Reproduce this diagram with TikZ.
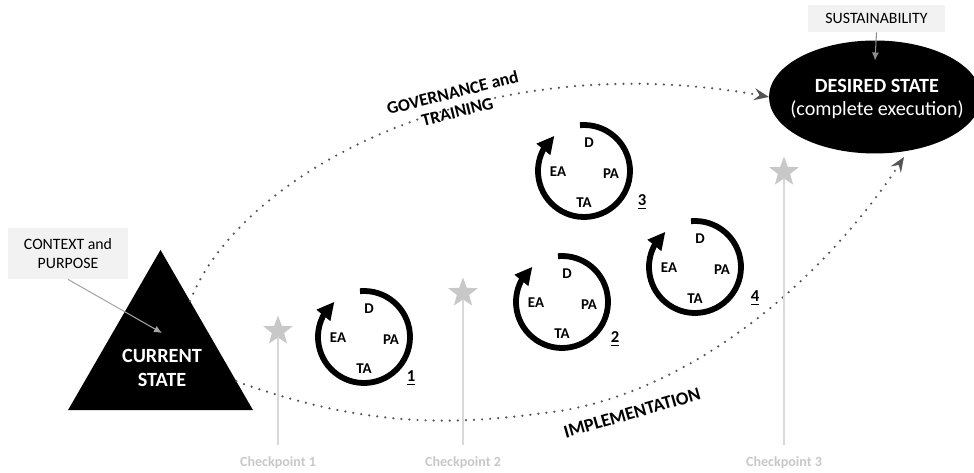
\documentclass[tikz,border=0pt]{standalone}
\usepackage{fontspec}
\setmainfont{Carlito}
\usetikzlibrary{shapes.geometric,arrows.meta,bending,calc}
\definecolor{dotgray}{RGB}{85,85,85}
\definecolor{boxgray}{RGB}{242,242,242}
\definecolor{checkgray}{RGB}{200,200,200}

\begin{document}
\begin{tikzpicture}[
    x=0.02cm, y=0.02cm,
    statetri/.style={regular polygon, regular polygon sides=3, fill=black, draw=none,
                 minimum size=4.272cm, inner sep=0pt, outer sep=0pt},
    statetxt/.style={text=white, align=center, font=\fontsize{11.5}{13.5}\selectfont\bfseries},
    goalell/.style={ellipse, fill=black, minimum width=4.24cm, minimum height=2.26cm,
                 inner sep=0pt, outer sep=0pt},
    notebox/.style={rectangle, fill=boxgray, align=center, font=\fontsize{9}{11}\selectfont},
    notearr/.style={-{Latex[length=1.6mm,width=1.4mm]}, gray!70, line width=0.6pt},
    pathline/.style={dotgray, line width=1.4pt, line cap=round, dash pattern=on 0pt off 4.6pt,
                 -{Stealth[length=3mm,width=2.4mm,inset=1.1mm,line cap=butt]}},
    pathtxt/.style={align=center, font=\fontsize{10}{11}\selectfont\bfseries},
    cycarr/.style={line width=3.3pt, -{Triangle[length=10pt,width=9.5pt]}},
    cyctxt/.style={font=\fontsize{8.5}{10}\selectfont\bfseries, inner sep=0pt},
    cycnum/.style={font=\fontsize{9.5}{11}\selectfont\bfseries, inner sep=0pt},
    cpstar/.style={star, star points=5, star point ratio=2.4, fill=checkgray, draw=none,
                 minimum size=0.62cm, inner sep=0pt},
    cpline/.style={gray!30, line width=0.6pt, shorten >=3pt},
    cplabel/.style={text=checkgray, font=\fontsize{8}{10}\selectfont\bfseries}
]
\useasboundingbox (0,0) rectangle (974,473);

% start and goal
\node[statetri] (cur) at (160.5,116.3) {};
\node[statetxt] (curtxt) at (162,105) {CURRENT\\STATE};
\node[goalell] (des) at (875,376) {};
\node[text=white, align=center, font=\fontsize{11.5}{13.5}\selectfont] (destxt) at (877,374)
    {\textbf{DESIRED STATE}\\(complete execution)};

% context and sustainability notes
\node[notebox, minimum width=2.4cm, minimum height=1.02cm] (ctx) at (68,219.5) {CONTEXT and\\PURPOSE};
\node[notebox, minimum width=2.74cm, minimum height=0.54cm] (sus) at (876.5,454.5) {SUSTAINABILITY};
\coordinate (curin) at (162,140);
\draw[notearr] (ctx.south) -- (curin);
\draw[notearr, gray!90] (sus.south) -- ([yshift=-0.4cm]des.north);

% the two routes
\coordinate (implend) at (904,316);
\draw[pathline] (cur.62) .. controls (240,300) and (480,432) .. (des.west);
\draw[pathline] (cur.-18) .. controls (380,40) and (470,50) .. (560,62)
    .. controls (700,85) and (830,200) .. (implend);
\node[pathtxt, rotate=14] (gov) at (455,371) {GOVERNANCE and\\TRAINING};
\node[pathtxt, rotate=16, font=\fontsize{10.5}{12}\selectfont\bfseries] (impl) at (632,60) {IMPLEMENTATION};

% checkpoints
\foreach \x/\y/\n in {278/142/1, 463/180/2, 784/301/3}{
    \node[cpstar] (star\n) at (\x,\y) {};
    \node[cplabel] (cp\n) at (\x,10) {Checkpoint \n};
    \draw[cpline] (star\n.south) -- (cp\n.north);
}

% cycles
\foreach \cx/\cy/\n/\nx/\ny in {364/136/1/47/-41, 562/171/2/53/-37, 584/302/3/58/-31, 695/206/4/60/-31}{
    \coordinate (cyc\n) at (\cx,\cy);
    \draw[cycarr] ([shift={(95:46)}]cyc\n) arc[start angle=95, end angle=-230, radius=46];
    \node[cyctxt] (cyc\n-d) at ([shift={(5,28)}]cyc\n) {D};
    \node[cyctxt] (cyc\n-ea) at ([shift={(-26,-1)}]cyc\n) {EA};
    \node[cyctxt] (cyc\n-pa) at ([shift={(27,-3)}]cyc\n) {PA};
    \node[cyctxt] (cyc\n-ta) at ([shift={(0,-32)}]cyc\n) {TA};
    \node[cycnum] (num\n) at ([shift={(\nx,\ny)}]cyc\n) {\underline{\n}};
}
\end{tikzpicture}
\end{document}
